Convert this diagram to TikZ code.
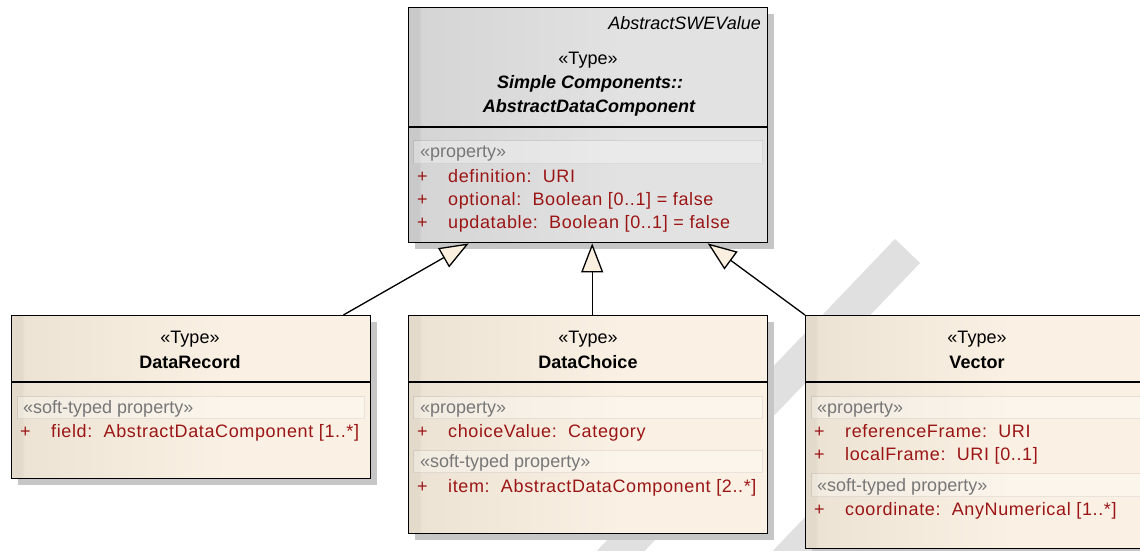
\documentclass[tikz,border=0pt]{standalone}
\usepackage{fontspec}
\setmainfont{Liberation Sans}
\newfontfamily\attrfamily[LetterSpace=3.5]{Liberation Sans}
\usetikzlibrary{arrows.meta,shadows}

\definecolor{attrred}{HTML}{9B1515}
\definecolor{stereogray}{HTML}{777777}
\definecolor{shadowgray}{HTML}{C6C6C6}
\definecolor{markgray}{HTML}{E0E0E0}
\definecolor{creamA}{HTML}{E3DACB}
\definecolor{creamB}{HTML}{ECE3D4}
\definecolor{creamC}{HTML}{FAF1E4}
\definecolor{greyA}{HTML}{C9C9C9}
\definecolor{greyB}{HTML}{D5D5D5}
\definecolor{greyC}{HTML}{E2E2E2}
\definecolor{tipfill}{HTML}{FBF0E0}

\pgfdeclarehorizontalshading{creamshading}{100bp}{color(0bp)=(creamA); color(25bp)=(creamA); color(26.4bp)=(creamA); color(26.8bp)=(creamB); color(55bp)=(creamC); color(100bp)=(creamC)}
\pgfdeclarehorizontalshading{greyshading}{100bp}{color(0bp)=(greyA); color(25bp)=(greyA); color(26.4bp)=(greyA); color(26.8bp)=(greyB); color(55bp)=(greyC); color(100bp)=(greyC)}

\newcommand{\umlfs}{\fontsize{18}{22}\selectfont}

\tikzset{
  umlbox/.style={draw=black, line width=1.4pt, inner sep=0pt, anchor=north west,
    drop shadow={shadow xshift=6pt, shadow yshift=-6pt, fill=shadowgray, opacity=1}},
  creambox/.style={umlbox, shade, shading=creamshading},
  greybox/.style={umlbox, shade, shading=greyshading},
  divider/.style={line width=1.2pt},
  band/.style={fill=white, fill opacity=0.3, draw=black, draw opacity=0.07,
    line width=1pt, inner sep=0pt, anchor=north west, minimum height=23pt},
  txt/.style={inner sep=0pt, font=\umlfs, anchor=base},
  stereo/.style={txt, anchor=base west, text=stereogray},
  plusmark/.style={txt, anchor=base west, text=attrred},
  attr/.style={txt, font=\umlfs\attrfamily, anchor=base west, text=attrred},
  clsname/.style={txt, font=\umlfs\bfseries},
  absname/.style={txt, font=\umlfs\bfseries\itshape},
  genline/.style={line width=1.3pt, -{Triangle[length=29pt, width=22pt, fill=tipfill]}},
  markband/.style={fill=markgray, draw=none}
}

\begin{document}
\begin{tikzpicture}[x=1pt, y=-1pt]
\useasboundingbox (0,0) rectangle (1140,550);
\fill[white] (0,0) rectangle (1140,550);

% diagonal background stripes
\fill[markband] (895,239) -- (920,263) -- (614,583) -- (589,559) -- cycle;
\fill[markband] (936,380) -- (961,404) -- (770,604) -- (722,604) -- cycle;

% ---------- AbstractDataComponent ----------
\node[greybox, minimum width=359pt, minimum height=235pt] (abs) at (408,7) {};
\draw[divider] (abs.west |- 0,127) coordinate (absDivL) -- (abs.east |- 0,127) coordinate (absDivR);
\node[txt, font=\umlfs\itshape, anchor=base east] (absSuper) at (761,29) {AbstractSWEValue};
\node[txt] (absStereo) at (588,64) {«Type»};
\node[absname] (absName1) at (590,88) {Simple Components::};
\node[absname] (absName2) at (589,112) {AbstractDataComponent};
\node[band, minimum width=349pt] (absBand) at (413,140) {};
\node[stereo] (absProp) at (420,157) {«property»};
\node[plusmark] (absP1) at (417,182) {+};
\node[attr] (absA1) at (448,182) {definition:\ \ URI};
\node[plusmark] (absP2) at (417,205) {+};
\node[attr] (absA2) at (448,205) {optional:\ \ Boolean [0..1] = false};
\node[plusmark] (absP3) at (417,228) {+};
\node[attr] (absA3) at (448,228) {updatable:\ \ Boolean [0..1] = false};

% ---------- DataRecord ----------
\node[creambox, minimum width=359pt, minimum height=163pt] (rec) at (11,315) {};
\draw[divider] (rec.west |- 0,382) -- (rec.east |- 0,382);
\node[txt] (recStereo) at (190,343) {«Type»};
\node[clsname] (recName) at (190,368) {DataRecord};
\node[band, minimum width=347pt, minimum height=22pt] (recBand) at (17,396) {};
\node[stereo] (recProp) at (23,413) {«soft-typed property»};
\node[plusmark] (recP1) at (20,437) {+};
\node[attr] (recA1) at (51,437) {field:\ \ AbstractDataComponent [1..*]};

% ---------- DataChoice ----------
\node[creambox, minimum width=359pt, minimum height=218pt] (cho) at (408,315) {};
\draw[divider] (cho.west |- 0,382) -- (cho.east |- 0,382);
\node[txt] (choStereo) at (588,343) {«Type»};
\node[clsname] (choName) at (588,368) {DataChoice};
\node[band, minimum width=349pt, minimum height=22pt] (choBand1) at (413,396) {};
\node[stereo] (choProp) at (420,413) {«property»};
\node[plusmark] (choP1) at (417,437) {+};
\node[attr] (choA1) at (448,437) {choiceValue:\ \ Category};
\node[band, minimum width=349pt, minimum height=22pt] (choBand2) at (413,450) {};
\node[stereo] (choSoft) at (420,467) {«soft-typed property»};
\node[plusmark] (choP2) at (417,492) {+};
\node[attr] (choA2) at (448,492) {item:\ \ AbstractDataComponent [2..*]};

% ---------- Vector ----------
\node[creambox, minimum width=344pt, minimum height=233pt] (vec) at (805,315) {};
\draw[divider] (vec.west |- 0,382) -- (vec.east |- 0,382);
\node[txt] (vecStereo) at (977,343) {«Type»};
\node[clsname] (vecName) at (977,368) {Vector};
\node[band, minimum width=334pt, minimum height=22pt] (vecBand1) at (811,396) {};
\node[stereo] (vecProp) at (817,413) {«property»};
\node[plusmark] (vecP1) at (814,437) {+};
\node[attr] (vecA1) at (845,437) {referenceFrame:\ \ URI};
\node[plusmark] (vecP2) at (814,460) {+};
\node[attr] (vecA2) at (845,460) {localFrame:\ \ URI [0..1]};
\node[band, minimum width=334pt, minimum height=23pt] (vecBand2) at (811,473) {};
\node[stereo] (vecSoft) at (817,491) {«soft-typed property»};
\node[plusmark] (vecP3) at (814,515) {+};
\node[attr] (vecA3) at (845,515) {coordinate:\ \ AnyNumerical [1..*]};

% ---------- generalizations ----------
\draw[genline] ([xshift=-28pt]rec.north east) -- ([xshift=-119.5pt]abs.south);
\draw[genline] ([xshift=4pt]cho.north) -- ([xshift=4pt]abs.south);
\draw[genline] (vec.north west) -- ([xshift=119.5pt]abs.south);
\end{tikzpicture}
\end{document}
